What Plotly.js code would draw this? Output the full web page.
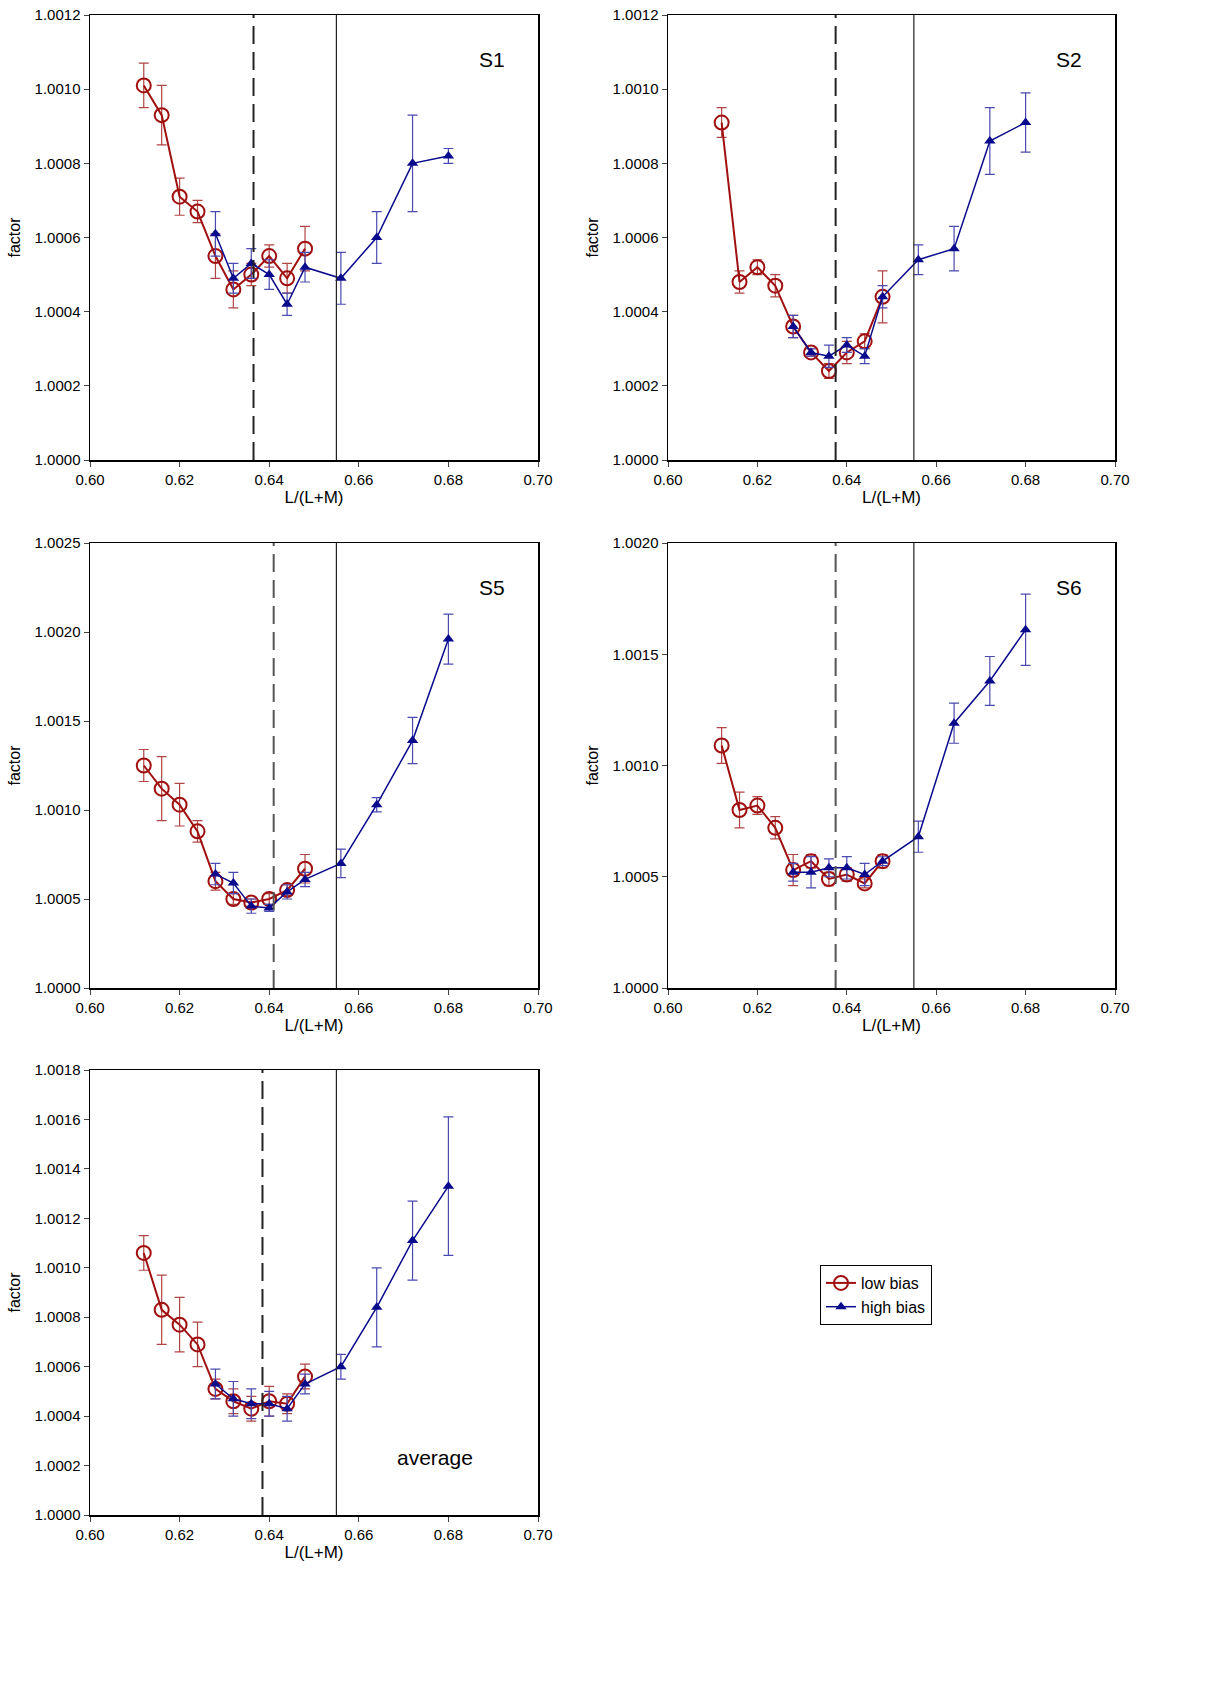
<!DOCTYPE html>
<html>
<head>
<meta charset="utf-8">
<script src="https://cdn.plot.ly/plotly-3.0.1.min.js"></script>
<style>body{margin:0;background:#fff}#plot{width:1220px;height:1683px}</style>
</head>
<body>
<div id="plot"></div>
<script>
const xLow = [0.612, 0.616, 0.620, 0.624, 0.628, 0.632, 0.636, 0.640, 0.644, 0.648];
const xHigh = [0.628, 0.632, 0.636, 0.640, 0.644, 0.648, 0.656, 0.664, 0.672, 0.680];

const panelNames = ['S1', 'S2', 'S5', 'S6', 'average'];

const lowS1 = [1.00101, 1.00093, 1.00071, 1.00067, 1.00055, 1.00046, 1.00050, 1.00055, 1.00049, 1.00057];
const lowS1Err = [0.00006, 0.00008, 0.00005, 0.00003, 0.00006, 0.00005, 0.00003, 0.00003, 0.00004, 0.00006];
const highS1 = [1.00061, 1.00049, 1.00053, 1.00050, 1.00042, 1.00052, 1.00049, 1.00060, 1.00080, 1.00082];
const highS1Err = [0.00006, 0.00004, 0.00004, 0.00004, 0.00003, 0.00004, 0.00007, 0.00007, 0.00013, 0.00002];

const lowS2 = [1.00091, 1.00048, 1.00052, 1.00047, 1.00036, 1.00029, 1.00024, 1.00029, 1.00032, 1.00044];
const lowS2Err = [0.00004, 0.00003, 0.00002, 0.00003, 0.00003, 0.00001, 0.00002, 0.00003, 0.00002, 0.00007];
const highS2 = [1.00036, 1.00029, 1.00028, 1.00031, 1.00028, 1.00044, 1.00054, 1.00057, 1.00086, 1.00091];
const highS2Err = [0.00003, 0.00001, 0.00003, 0.00002, 0.00002, 0.00003, 0.00004, 0.00006, 0.00009, 0.00008];

const lowS5 = [1.00125, 1.00112, 1.00103, 1.00088, 1.00060, 1.00050, 1.00048, 1.00050, 1.00055, 1.00067];
const lowS5Err = [0.00009, 0.00018, 0.00012, 0.00006, 0.00005, 0.00003, 0.00002, 0.00003, 0.00003, 0.00008];
const highS5 = [1.00064, 1.00059, 1.00046, 1.00045, 1.00054, 1.00061, 1.00070, 1.00103, 1.00139, 1.00196];
const highS5Err = [0.00006, 0.00006, 0.00004, 0.00002, 0.00004, 0.00004, 0.00008, 0.00004, 0.00013, 0.00014];

const lowS6 = [1.00109, 1.00080, 1.00082, 1.00072, 1.00053, 1.00057, 1.00049, 1.00051, 1.00047, 1.00057];
const lowS6Err = [0.00008, 0.00008, 0.00004, 0.00005, 0.00007, 0.00003, 0.00003, 0.00003, 0.00002, 0.00003];
const highS6 = [1.00052, 1.00052, 1.00054, 1.00054, 1.00051, 1.00057, 1.00068, 1.00119, 1.00138, 1.00161];
const highS6Err = [0.00004, 0.00007, 0.00004, 0.00005, 0.00005, 0.00002, 0.00007, 0.00009, 0.00011, 0.00016];

const lowAvg = [1.00106, 1.00083, 1.00077, 1.00069, 1.00051, 1.00046, 1.00043, 1.00046, 1.00045, 1.00056];
const lowAvgErr = [0.00007, 0.00014, 0.00011, 0.00009, 0.00004, 0.00005, 0.00005, 0.00006, 0.00004, 0.00005];
const highAvg = [1.00053, 1.00047, 1.00045, 1.00045, 1.00043, 1.00053, 1.00060, 1.00084, 1.00111, 1.00133];
const highAvgErr = [0.00006, 0.00007, 0.00006, 0.00005, 0.00005, 0.00004, 0.00005, 0.00016, 0.00016, 0.00028];

const dashedAt = [0.6365, 0.6375, 0.641, 0.6375, 0.6385];
const solidAt = [0.655, 0.655, 0.655, 0.655, 0.655];
const yMax = [1.0012, 1.0012, 1.0025, 1.0020, 1.0018];
const yStep = [0.0002, 0.0002, 0.0005, 0.0005, 0.0002];

const lows = [lowS1, lowS2, lowS5, lowS6, lowAvg];
const lowErrs = [lowS1Err, lowS2Err, lowS5Err, lowS6Err, lowAvgErr];
const highs = [highS1, highS2, highS5, highS6, highAvg];
const highErrs = [highS1Err, highS2Err, highS5Err, highS6Err, highAvgErr];

// panel boxes in pixels (left, right, top, bottom)
const W = 1220, H = 1683;
const boxes = [
  [90, 538, 15, 460], [668, 1115, 15, 460],
  [90, 538, 543, 988], [668, 1115, 543, 988],
  [90, 538, 1070, 1515]
];

const red = '#a01010', blue = '#0a0a8c';
const font = { family: 'Liberation Sans, Arial, sans-serif', color: '#000' };

const data = [], shapes = [], annotations = [];
const layout = {
  width: W, height: H, margin: { l: 0, r: 0, t: 0, b: 0 },
  paper_bgcolor: '#fff', plot_bgcolor: '#fff', font: font,
  showlegend: true,
  legend: {
    x: 820 / W, y: 1 - 1265 / H, xanchor: 'left', yanchor: 'top',
    bordercolor: '#000', borderwidth: 1, font: { size: 16, family: font.family },
    tracegroupgap: 0
  }
};

boxes.forEach((b, i) => {
  const n = i === 0 ? '' : String(i + 1);
  const xa = 'x' + n, ya = 'y' + n;
  layout['xaxis' + n] = {
    domain: [b[0] / W, b[1] / W], anchor: ya, range: [0.60, 0.70], dtick: 0.02,
    tickformat: '.2f', showline: true, mirror: true, linecolor: '#000', linewidth: 1.5,
    ticks: 'outside', ticklen: 5, showgrid: false, zeroline: false,
    tickfont: { size: 15 }, title: { text: 'L/(L+M)', font: { size: 17 }, standoff: 4 }
  };
  layout['yaxis' + n] = {
    domain: [1 - b[3] / H, 1 - b[2] / H], anchor: xa, range: [1.0, yMax[i]], dtick: yStep[i],
    tickformat: '.4f', showline: true, mirror: true, linecolor: '#000', linewidth: 1.5,
    ticks: 'outside', ticklen: 5, showgrid: false, zeroline: false,
    tickfont: { size: 15 }, title: { text: 'factor', font: { size: 16 }, standoff: 10 }
  };
  shapes.push({ type: 'line', xref: xa, yref: ya + ' domain', x0: dashedAt[i], x1: dashedAt[i], y0: 0, y1: 1,
    line: { color: i === 2 || i === 3 ? '#555' : '#222', width: 2, dash: '18px,8px' } });
  shapes.push({ type: 'line', xref: xa, yref: ya + ' domain', x0: solidAt[i], x1: solidAt[i], y0: 0, y1: 1,
    line: { color: '#222', width: 1.2 } });
  const isAvg = i === 4;
  annotations.push({ xref: xa + ' domain', yref: ya + ' domain',
    x: isAvg ? 0.77 : 0.93, y: isAvg ? 0.1 : 0.93, text: panelNames[i], showarrow: false,
    xanchor: isAvg ? 'center' : 'right', font: { size: 21 } });

  data.push({
    type: 'scatter', mode: 'lines+markers', name: 'low bias', legendgroup: 'low', showlegend: i === 0,
    x: xLow, y: lows[i], xaxis: xa, yaxis: ya,
    line: { color: red, width: 2 },
    marker: { symbol: 'circle-open', size: 14, color: red, line: { width: 2 } },
    error_y: { type: 'data', array: lowErrs[i], color: '#b04545', thickness: 1.2, width: 5 }
  });
  data.push({
    type: 'scatter', mode: 'lines+markers', name: 'high bias', legendgroup: 'high', showlegend: i === 0,
    x: xHigh, y: highs[i], xaxis: xa, yaxis: ya,
    line: { color: blue, width: 1.5 },
    marker: { symbol: 'triangle-up', size: 10, color: blue },
    error_y: { type: 'data', array: highErrs[i], color: '#4a4ab0', thickness: 1.2, width: 5 }
  });
});

layout.shapes = shapes;
layout.annotations = annotations;

Plotly.newPlot('plot', data, layout, { displayModeBar: false, staticPlot: true });
</script>
</body>
</html>
